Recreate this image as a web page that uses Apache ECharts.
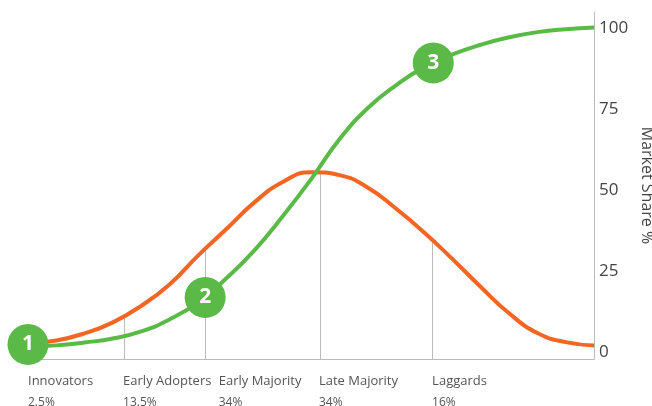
<!DOCTYPE html>
<html>
<head>
<meta charset="utf-8">
<script src="https://cdn.jsdelivr.net/npm/echarts@6/dist/echarts.min.js"></script>
<style>
  html, body { margin: 0; padding: 0; background: #fff; }
  #chart { width: 652px; height: 406px; }
</style>
</head>
<body>
<div id="chart"></div>
<script>
// adopter groups along the bottom
var categories = ['Innovators', 'Early Adopters', 'Early Majority', 'Late Majority', 'Laggards'];
var shares = ['2.5%', '13.5%', '34%', '34%', '16%'];
var categoryAt = [0, 16.8, 33.7, 51.4, 71.4];

// curves read every 5 units along x (0..100)
var xs = [0, 5, 10, 15, 20, 25, 30, 35, 40, 45, 50, 55, 60, 65, 70, 75, 80, 85, 90, 95, 100];
var adoption = [2.8, 3.7, 5.9, 9.3, 14.4, 21, 29.8, 38, 46.3, 52.6, 55.6, 54.7, 50.9, 44.4, 37,
    28.8, 20.2, 12.1, 6, 3.2, 2.2];
var marketShare = [1.9, 2.2, 3.1, 4.3, 6.5, 10.2, 15.4, 22.8, 31.5, 42, 53.4, 65.7, 75.3, 82.4,
    88, 91.9, 94.9, 97.2, 98.8, 99.7, 100.2];

// vertical dividers between groups, up to the bell curve
var dividerX = [17, 31.4, 51.6, 71.4];
var dividerTop = [11, 32.5, 55.9, 34.6];

// numbered steps on the green curve
var steps = [[0, 2.5, '1'], [31.3, 17, '2'], [71.6, 89.3, '3']];

var yTicks = [0, 25, 50, 75, 100];
var yMin = -2;

var orange = '#f26522';
var green = '#5ab947';

function pairs(values) {
    return xs.map(function (x, i) { return [x, values[i]]; });
}

var myChart = echarts.init(document.getElementById('chart'));

var dividers = dividerX.map(function (x, i) {
    return [{ coord: [x, yMin] }, { coord: [x, dividerTop[i]] }];
});

var option = {
    animation: false,
    backgroundColor: '#fff',
    grid: { left: 28, right: 58, top: 12, bottom: 47, outerBoundsMode: 'none' },
    xAxis: {
        type: 'value',
        min: 0,
        max: 100,
        axisLine: { show: true, onZero: false, lineStyle: { color: '#bbb', width: 1 } },
        axisTick: { show: false },
        splitLine: { show: false },
        axisLabel: {
            customValues: categoryAt,
            align: 'left',
            margin: 12,
            formatter: function (value) {
                var i = categoryAt.indexOf(value);
                return '{a|' + categories[i] + '}\n{b|' + shares[i] + '}';
            },
            rich: {
                a: { fontFamily: 'Open Sans', fontSize: 13, color: '#555', lineHeight: 21 },
                b: { fontFamily: 'Open Sans', fontSize: 12, color: '#555', lineHeight: 21 }
            }
        }
    },
    yAxis: {
        type: 'value',
        position: 'right',
        min: yMin,
        max: 105,
        name: 'Market Share %',
        nameLocation: 'middle',
        nameRotate: -90,
        nameGap: 42,
        nameTextStyle: { fontFamily: 'Open Sans', fontSize: 16, color: '#444' },
        axisLine: { show: true, onZero: false, lineStyle: { color: '#bbb', width: 1 } },
        axisTick: { show: false },
        splitLine: { show: false },
        axisLabel: {
            customValues: yTicks,
            margin: 5,
            fontFamily: 'Open Sans',
            fontSize: 17,
            color: '#444'
        }
    },
    series: [
        {
            name: 'adoption',
            type: 'line',
            data: pairs(adoption),
            smooth: 0.5,
            showSymbol: false,
            lineStyle: { color: orange, width: 4 },
            z: 3,
            markLine: {
                silent: true,
                symbol: 'none',
                label: { show: false },
                lineStyle: { color: '#bbb', width: 1, type: 'solid' },
                data: dividers,
                z: 1
            }
        },
        {
            name: 'market share',
            type: 'line',
            data: pairs(marketShare),
            smooth: 0.5,
            showSymbol: false,
            lineStyle: { color: green, width: 4 },
            z: 4
        },
        {
            name: 'steps',
            type: 'scatter',
            data: steps,
            symbolSize: 41,
            itemStyle: { color: green, opacity: 1 },
            z: 5,
            label: {
                show: true,
                position: 'inside',
                formatter: function (p) { return p.value[2]; },
                color: '#fff',
                fontFamily: 'Open Sans',
                fontWeight: 'bold',
                fontSize: 21
            }
        }
    ]
};
myChart.setOption(option);
</script>
</body>
</html>
